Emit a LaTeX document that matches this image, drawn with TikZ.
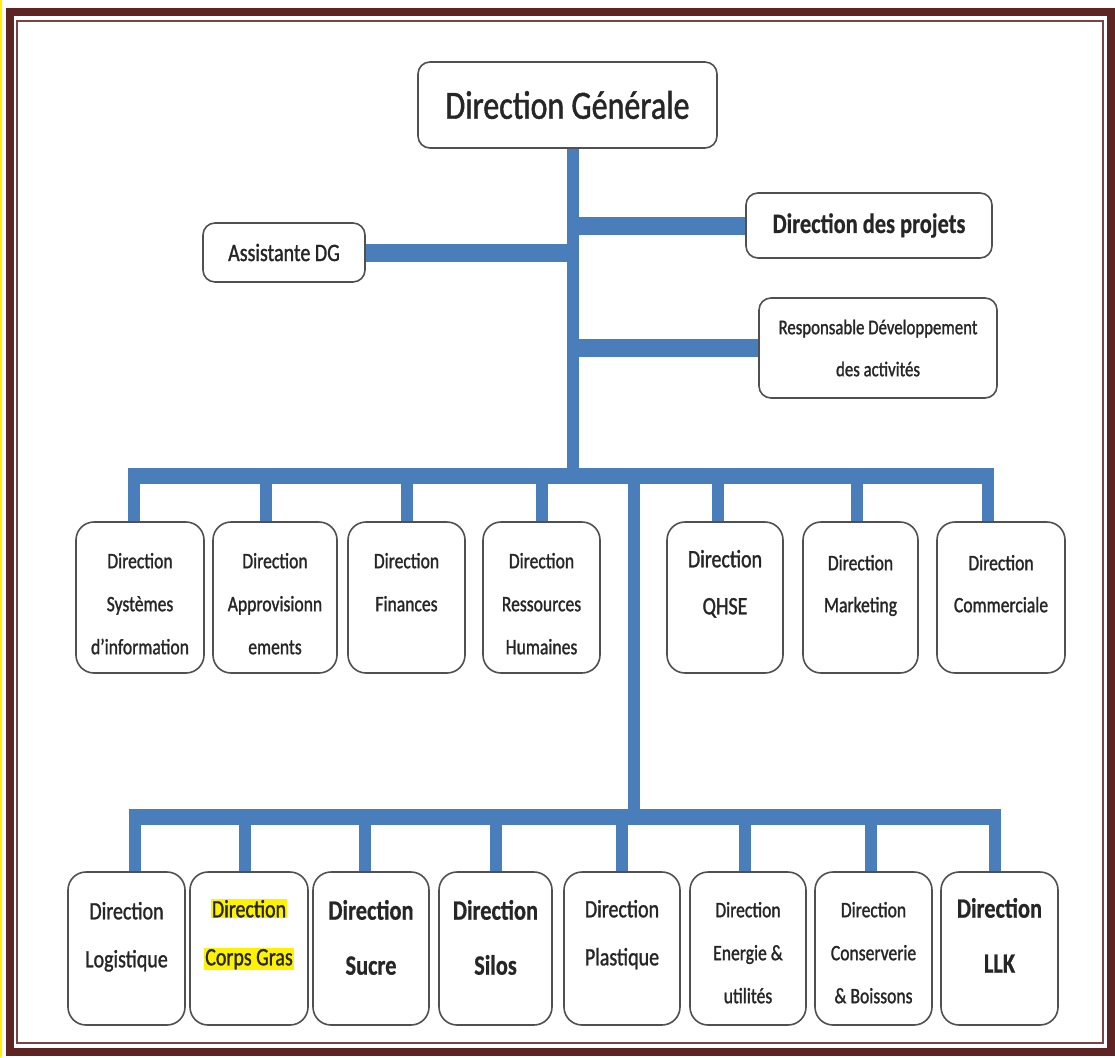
\documentclass[tikz,border=0pt]{standalone}
\usepackage{fontspec}
\setmainfont{Carlito}[FakeStretch=0.8, FakeBold=1.2, BoldFeatures={FakeBold=0.6}]
\usetikzlibrary{backgrounds}
\definecolor{linkblue}{RGB}{74,126,187}
\definecolor{framered}{RGB}{94,36,36}
\definecolor{boxgray}{RGB}{80,80,80}
\newcommand{\unittext}[4]{\parbox[c][#2][t]{#1}{\vspace*{#3}\centering #4}}
\newcommand{\hilite}[1]{{\setlength{\fboxsep}{1pt}\colorbox{yellow}{#1}}}
\tikzset{
  unit/.style={draw=boxgray, line width=1.6pt, rounded corners=18pt, fill=white, inner sep=0pt, text=black!85},
  head/.style={draw=boxgray, line width=1.6pt, rounded corners=12pt, fill=white, inner sep=0pt, align=center, text=black!85},
  link/.style={linkblue, line width=12pt},
  drop/.style={link, shorten >=-8pt},
  bus/.style={linkblue, line width=16pt, shorten <=-6pt, shorten >=-6pt},
  branch/.style={linkblue, line width=18pt}
}
\begin{document}
\begin{tikzpicture}[x=1pt, y=-1pt]
  \useasboundingbox (0,0) rectangle (1115,1057);
  \node[head, minimum width=299pt, minimum height=86pt, font=\fontsize{40}{48}\selectfont] (dg) at (567.5,105) {Direction Générale};
  \node[head, minimum width=246pt, minimum height=65pt, font=\fontsize{28}{34}\selectfont\bfseries] (proj) at (869,225.5) {Direction des projets};
  \node[head, minimum width=162pt, minimum height=59pt, font=\fontsize{25}{30}\selectfont] (asst) at (284,252.5) {Assistante DG};
  \node[head, minimum width=238pt, minimum height=100pt, font=\fontsize{21}{42}\selectfont] (resp) at (878,348) {Responsable Développement\\des activités};
  \coordinate (busA) at (573,476);
  \coordinate (fork) at (634,476);
  \coordinate (busB) at (634,817);

  \node[unit, font=\fontsize{22}{43}\selectfont] (dsi) at (140,597.5) {\unittext{128pt}{151pt}{31pt}{Direction\\Systèmes\\d’information}};
  \node[unit, font=\fontsize{22}{43}\selectfont] (dappro) at (275,597.5) {\unittext{124pt}{151pt}{31pt}{Direction\\Approvisionn\\ements}};
  \node[unit, font=\fontsize{22}{43}\selectfont] (dfin) at (406.5,597.5) {\unittext{117pt}{151pt}{31pt}{Direction\\Finances}};
  \node[unit, font=\fontsize{22}{43}\selectfont] (drh) at (541.5,597.5) {\unittext{117pt}{151pt}{31pt}{Direction\\Ressources\\Humaines}};
  \node[unit, font=\fontsize{25}{47}\selectfont] (dqhse) at (725,597.5) {\unittext{116pt}{151pt}{28pt}{Direction\\QHSE}};
  \node[unit, font=\fontsize{22}{42}\selectfont] (dmkt) at (860.5,597.5) {\unittext{115pt}{151pt}{33pt}{Direction\\Marketing}};
  \node[unit, font=\fontsize{22}{42}\selectfont] (dcom) at (1001,597.5) {\unittext{128pt}{151pt}{33pt}{Direction\\Commerciale}};

  \node[unit, font=\fontsize{25}{48}\selectfont] (dlog) at (126.5,948.5) {\unittext{117pt}{153pt}{30pt}{Direction\\Logistique}};
  \node[unit, font=\fontsize{25}{48}\selectfont] (dcg) at (249,948.5) {\unittext{118pt}{153pt}{27pt}{\hilite{Direction}\\\hilite{Corps Gras}}};
  \node[unit, font=\fontsize{28}{55}\selectfont\bfseries] (dsuc) at (371,948.5) {\unittext{116pt}{153pt}{28pt}{Direction\\Sucre}};
  \node[unit, font=\fontsize{28}{55}\selectfont\bfseries] (dsil) at (495.5,948.5) {\unittext{113pt}{153pt}{28pt}{Direction\\Silos}};
  \node[unit, font=\fontsize{25}{48}\selectfont] (dpla) at (622,948.5) {\unittext{116pt}{153pt}{28pt}{Direction\\Plastique}};
  \node[unit, font=\fontsize{22}{43}\selectfont] (dene) at (748,948.5) {\unittext{116pt}{153pt}{30pt}{Direction\\Energie \&\\utilités}};
  \node[unit, font=\fontsize{22}{43}\selectfont] (dcons) at (873.5,948.5) {\unittext{117pt}{153pt}{30pt}{Direction\\Conserverie\\\& Boissons}};
  \node[unit, font=\fontsize{28}{55}\selectfont\bfseries] (dllk) at (999.5,948.5) {\unittext{117pt}{153pt}{26pt}{Direction\\LLK}};

  \begin{scope}[on background layer]
    \fill[white] (0,0) rectangle (1115,1057);
    \draw[yellow, line width=2pt] (1,0) -- (1,1057);
    \draw[framered, line width=8pt] (10,12) rectangle (1111,1052);
    \draw[framered!85, line width=1.5pt] (17,21) rectangle (1103,1043);

    \draw[link, shorten >=-8pt] (busA |- dg.south) -- (busA);
    \draw[branch] (proj.west) -- (proj.west -| busA);
    \draw[branch] (asst.east) -- (asst.east -| busA);
    \draw[branch] (resp.west) -- (resp.west -| busA);

    \draw[bus] ([xshift=-6pt]dsi.north |- busA) -- ([xshift=-13pt]dcom.north |- busA);
    \draw[drop] ([xshift=-6pt]dsi.north) -- ([xshift=-6pt]dsi.north |- busA);
    \draw[drop] ([xshift=-9pt]dappro.north) -- ([xshift=-9pt]dappro.north |- busA);
    \draw[drop] (dfin.north) -- (dfin.north |- busA);
    \draw[drop] (drh.north) -- (drh.north |- busA);
    \draw[drop] ([xshift=-7pt]dqhse.north) -- ([xshift=-7pt]dqhse.north |- busA);
    \draw[drop] ([xshift=-4pt]dmkt.north) -- ([xshift=-4pt]dmkt.north |- busA);
    \draw[drop] ([xshift=-13pt]dcom.north) -- ([xshift=-13pt]dcom.north |- busA);

    \draw[link, shorten <=-8pt, shorten >=-8pt] (fork) -- (busB);
    \draw[bus] ([xshift=8pt]dlog.north |- busB) -- ([xshift=-5pt]dllk.north |- busB);
    \draw[drop] ([xshift=8pt]dlog.north) -- ([xshift=8pt]dlog.north |- busB);
    \draw[drop] ([xshift=-4pt]dcg.north) -- ([xshift=-4pt]dcg.north |- busB);
    \draw[drop] ([xshift=-6pt]dsuc.north) -- ([xshift=-6pt]dsuc.north |- busB);
    \draw[drop] (dsil.north) -- (dsil.north |- busB);
    \draw[drop] (dpla.north) -- (dpla.north |- busB);
    \draw[drop] ([xshift=-3pt]dene.north) -- ([xshift=-3pt]dene.north |- busB);
    \draw[drop] ([xshift=-3pt]dcons.north) -- ([xshift=-3pt]dcons.north |- busB);
    \draw[drop] ([xshift=-5pt]dllk.north) -- ([xshift=-5pt]dllk.north |- busB);
  \end{scope}
\end{tikzpicture}
\end{document}
